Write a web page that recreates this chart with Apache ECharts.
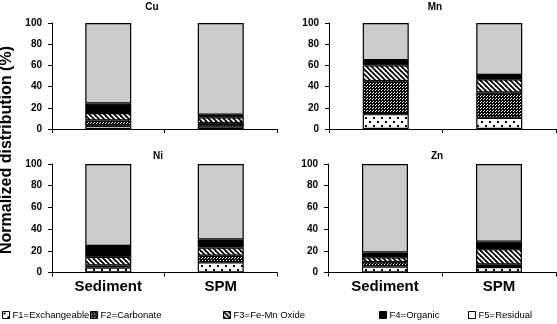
<!DOCTYPE html>
<html>
<head>
<meta charset="utf-8">
<script src="https://cdn.jsdelivr.net/npm/echarts@6/dist/echarts.min.js"></script>
<style>
    html, body { margin: 0; padding: 0; background: #fff; }
    #main { width: 557px; height: 324px; }
</style>
</head>
<body>
<div id="main"></div>
<script>
// categories on x, panels and fractions
var samples = ['Sediment', 'SPM'];
var metals = ['Cu', 'Mn', 'Ni', 'Zn'];
var fractions = ['F1=Exchangeable', 'F2=Carbonate', 'F3=Fe-Mn Oxide', 'F4=Organic', 'F5=Residual'];
var yTicks = [0, 20, 40, 60, 80, 100];

// values per fraction F1..F5, each [Sediment, SPM]
var cu = [[3, 2.5], [5, 3], [7, 5.5], [9, 2.5], [76, 86.5]];
var mn = [[14, 10.5], [31, 24], [15, 12.5], [5, 4], [35, 49]];
var ni = [[4.5, 9.5], [2, 6], [8, 7.5], [10, 7.5], [75.5, 69.5]];
var zn = [[5.5, 5], [4, 2.5], [4.5, 14], [4.5, 7], [81.5, 71.5]];
var metalData = [cu, mn, ni, zn];

var chart = echarts.init(document.getElementById('main'));

// fill patterns
function tile(w, h, draw) {
    var c = document.createElement('canvas');
    c.width = w;
    c.height = h;
    var ctx = c.getContext('2d');
    draw(ctx);
    return { image: c, repeat: 'repeat' };
}

var dotFill = tile(8, 8, function (ctx) {
    ctx.fillStyle = '#fff';
    ctx.fillRect(0, 0, 8, 8);
    ctx.fillStyle = '#000';
    ctx.fillRect(1, 1, 2, 2);
    ctx.fillRect(5, 5, 2, 2);
});
var darkFill = tile(3, 3, function (ctx) {
    ctx.fillStyle = '#000';
    ctx.fillRect(0, 0, 3, 3);
    ctx.fillStyle = '#fff';
    ctx.fillRect(0, 0, 1, 1);
    ctx.fillRect(1, 2, 1, 1);
});
var hatchFill = tile(5, 5, function (ctx) {
    ctx.fillStyle = '#fff';
    ctx.fillRect(0, 0, 5, 5);
    ctx.strokeStyle = '#000';
    ctx.lineWidth = 1.8;
    [-5, 0, 5].forEach(function (o) {
        ctx.beginPath();
        ctx.moveTo(o - 1, -1);
        ctx.lineTo(o + 6, 6);
        ctx.stroke();
    });
});
var fills = [dotFill, darkFill, hatchFill, '#000', '#cbcbcb'];
var legendFills = [dotFill, darkFill, hatchFill, '#000', '#fff'];

var grids = [
    { left: 52, top: 23, width: 225, height: 106 },
    { left: 329, top: 23, width: 227, height: 106 },
    { left: 52, top: 164, width: 225, height: 108.5 },
    { left: 328, top: 164, width: 228, height: 108.5 }
];
var titlePos = [[152, 7], [435, 7], [158, 156], [437, 156]];
var legendLeft = [2, 90, 223, 379, 468];

var xAxes = [], yAxes = [], series = [], graphics = [];

grids.forEach(function (g, gi) {
    xAxes.push({
        type: 'category',
        gridIndex: gi,
        data: samples,
        axisLine: { lineStyle: { color: '#000', width: 1 } },
        axisTick: { show: true, length: 4, lineStyle: { color: '#000' } },
        axisLabel: {
            show: gi >= 2,
            color: '#000',
            fontFamily: 'Liberation Sans, Arial, sans-serif',
            fontWeight: 'bold',
            fontSize: 15,
            margin: 7
        }
    });
    yAxes.push({
        type: 'value',
        gridIndex: gi,
        min: yTicks[0],
        max: yTicks[yTicks.length - 1],
        interval: 20,
        splitLine: { show: false },
        axisLine: { show: true, lineStyle: { color: '#000', width: 1 } },
        axisTick: { show: true, length: 4, lineStyle: { color: '#000' } },
        axisLabel: {
            color: '#000',
            fontFamily: 'Liberation Sans, Arial, sans-serif',
            fontWeight: 'bold',
            fontSize: 10,
            margin: 10
        }
    });
    fractions.forEach(function (f, k) {
        series.push({
            type: 'bar',
            name: f,
            xAxisIndex: gi,
            yAxisIndex: gi,
            stack: metals[gi],
            barWidth: 46,
            data: metalData[gi][k],
            itemStyle: { color: fills[k], borderColor: '#000', borderWidth: 1.2 }
        });
    });
    graphics.push({
        type: 'text',
        x: titlePos[gi][0],
        y: titlePos[gi][1],
        style: {
            text: metals[gi],
            font: 'bold 10px "Liberation Sans", Arial, sans-serif',
            fill: '#000',
            align: 'center',
            verticalAlign: 'middle',
            textAlign: 'center',
            textVerticalAlign: 'middle'
        }
    });
});

graphics.push({
    type: 'text',
    x: 7,
    y: 150,
    rotation: Math.PI / 2,
    style: {
        text: 'Normalized distribution (%)',
        font: 'bold 16px "Liberation Sans", Arial, sans-serif',
        fill: '#000',
        align: 'center',
        verticalAlign: 'middle',
        textAlign: 'center',
        textVerticalAlign: 'middle'
    }
});

var legends = fractions.map(function (f, k) {
    return {
        left: legendLeft[k],
        top: 310,
        icon: 'rect',
        itemWidth: 7,
        itemHeight: 7,
        itemGap: 0,
        padding: 0,
        selectedMode: false,
        textStyle: {
            color: '#000',
            fontSize: 9.5,
            fontFamily: '"Liberation Sans", Arial, sans-serif',
            padding: [0, 0, 0, -2]
        },
        data: [{
            name: f,
            itemStyle: { color: legendFills[k], borderColor: '#000', borderWidth: 1 }
        }]
    };
});

chart.setOption({
    animation: false,
    backgroundColor: '#fff',
    grid: grids,
    xAxis: xAxes,
    yAxis: yAxes,
    legend: legends,
    graphic: graphics,
    series: series
});
</script>
</body>
</html>
